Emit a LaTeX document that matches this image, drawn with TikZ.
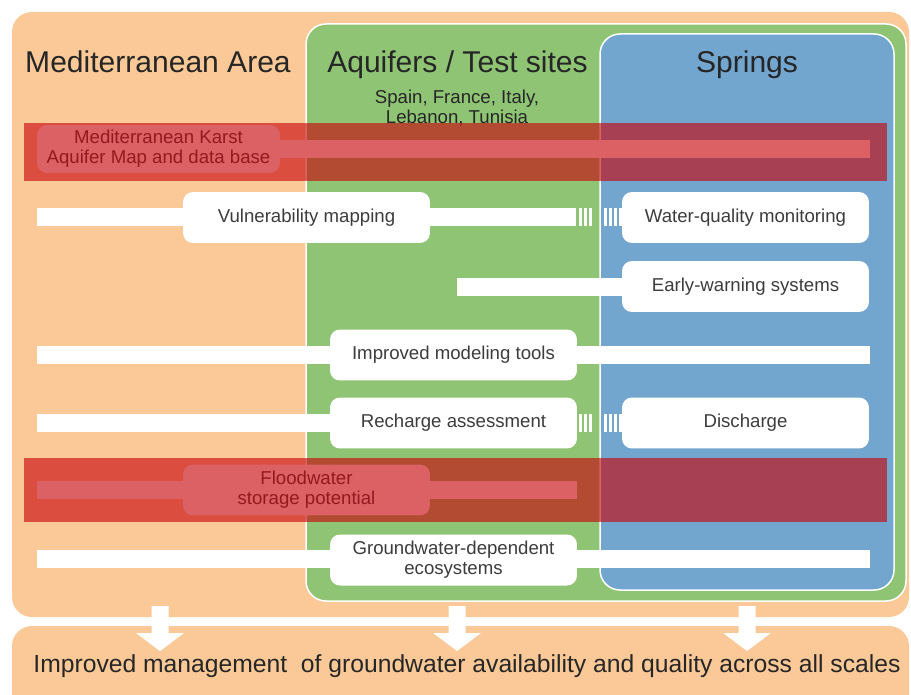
\documentclass[tikz,border=0pt]{standalone}
\usepackage{fontspec}
\setmainfont{Liberation Sans}
\usetikzlibrary{calc}
\definecolor{medorange}{RGB}{250,201,151}
\definecolor{sitegreen}{RGB}{142,196,115}
\definecolor{springblue}{RGB}{115,166,207}
\definecolor{karstred}{RGB}{200,5,12}
\definecolor{boxtext}{RGB}{60,60,60}
\definecolor{titletext}{RGB}{38,38,38}
\def\whitearrow(#1){\fill[white] ($(#1)+(-8.5,0)$) -- ++(0,27) -- ++(-15.5,0) -- ($(#1)+(0,45)$) -- ($(#1)+(24,27)$) -- ++(-15.5,0) -- ++(0,-27) -- cycle;}

\begin{document}
\begin{tikzpicture}[x=0.02cm, y=-0.02cm,
    panel/.style={rounded corners=0.4cm},
    tagbox/.style={fill=white, rounded corners=0.2cm, minimum width=4.94cm, minimum height=1.02cm,
        inner sep=0pt, align=center, text=boxtext, font=\fontsize{10.6}{11.4}\selectfont},
    whitebar/.style={draw=white, line width=0.36cm},
    title/.style={anchor=base, text=titletext, font=\fontsize{17.1}{19}\selectfont},
    redband/.style={fill=karstred, fill opacity=0.63}]
		%%%%% FRAME %%%%%
		\useasboundingbox (0,0) rectangle (911,695);
		\clip (0,0) rectangle (911,695);
		
		%%%%% PANELS %%%%%
		\fill[medorange, panel] (12,12) rectangle (909,617);
		\fill[medorange, panel] (12,626) rectangle (909,740);
		\draw[white, line width=0.03cm, fill=sitegreen, panel] (306,24) rectangle (906,601);
		\draw[white, line width=0.03cm, fill=springblue, panel] (600,34) rectangle (894,590);
		
		\node[title] (area) at (158,73) {Mediterranean Area};
		\node[title] (sites) at (457.5,73) {Aquifers / Test sites};
		\node[title] (springs) at (747,73) {Springs};
		\node[align=center, text=titletext, font=\fontsize{10.6}{11.3}\selectfont] (countries) at (457,108) {Spain, France, Italy,\\Lebanon, Tunisia};
		
		%%%%% BARS %%%%%
		\coordinate (karstW) at (158,149);   \coordinate (karstE) at (870,149);
		\coordinate (vulnW) at (37,217.5);   \coordinate (vulnE) at (576,217.5);
		\coordinate (earlyW) at (457,287);   \coordinate (earlyE) at (745,287);
		\coordinate (modelW) at (37,355);    \coordinate (modelE) at (870,355);
		\coordinate (rechW) at (37,422.5);   \coordinate (rechE) at (577,422.5);
		\coordinate (floodW) at (37,489.5);  \coordinate (floodE) at (577,489.5);
		\coordinate (gdeW) at (37,559);      \coordinate (gdeE) at (870,559);
		
		\draw[whitebar] (karstW) -- (karstE);
		\draw[whitebar] (vulnW) -- (vulnE);
		\draw[whitebar] (earlyW) -- (earlyE);
		\draw[whitebar] (modelW) -- (modelE);
		\draw[whitebar] (rechW) -- (rechE);
		\draw[whitebar] (floodW) -- (floodE);
		\draw[whitebar] (gdeW) -- (gdeE);
		
		% broken link into the springs column
		\foreach \s in {579,584,589,604,609,614,619} {
			\fill[white] (\s,208.5) rectangle ++(2.5,18);
			\fill[white] (\s,413.5) rectangle ++(2.5,18);
		}
		
		%%%%% BOXES %%%%%
		\node[tagbox, minimum width=4.86cm, minimum height=0.96cm] (karst) at (158.5,149) {Mediterranean Karst\\Aquifer Map and data base};
		\node[tagbox] (vuln) at (306.5,217.5) {Vulnerability mapping};
		\node[tagbox] (quality) at (745.5,217.5) {Water-quality monitoring};
		\node[tagbox] (early) at (745.5,286.5) {Early-warning systems};
		\node[tagbox] (model) at (453.5,355) {Improved modeling tools};
		\node[tagbox] (recharge) at (453.5,423) {Recharge assessment};
		\node[tagbox] (discharge) at (745.5,423) {Discharge};
		\node[tagbox] (flood) at (306.5,490) {Floodwater\\storage potential};
		\node[tagbox] (gde) at (453.5,560) {Groundwater-dependent\\ecosystems};
		
		%%%%% RED BANDS %%%%%
		\fill[redband] (24,123) rectangle (887,181);
		\fill[redband] (24,458) rectangle (887,522);
		
		%%%%% OUTCOME %%%%%
		\whitearrow(160,606)
		\whitearrow(457,606)
		\whitearrow(747,606)
		
		\node[anchor=base, text=titletext, font=\fontsize{14.05}{16}\selectfont] (goal) at (467,672) {Improved management\ \ of groundwater availability and quality across all scales};
		
		%%%%% END %%%%%
	\end{tikzpicture}
\end{document}
